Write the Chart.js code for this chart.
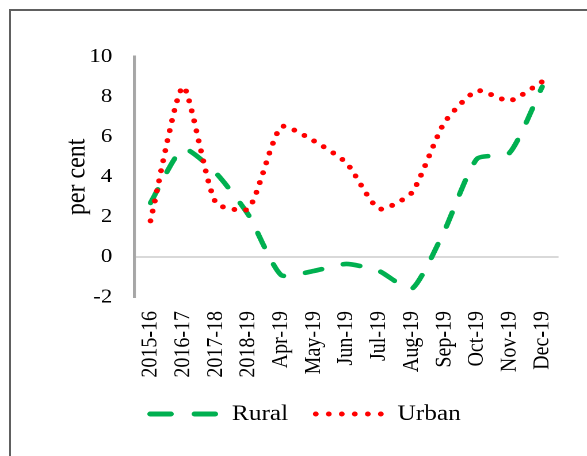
<!DOCTYPE html>
<html>
<head>
<meta charset="utf-8">
<script src="https://cdn.jsdelivr.net/npm/chart.js@4.4.0/dist/chart.umd.min.js"></script>
<style>
html, body { margin:0; padding:0; background:#fff; overflow:hidden; width:587px; height:456px; }
#frame { position:absolute; left:9px; top:9px; width:640px; height:520px; border-left:2px solid #606060; border-top:2px solid #606060; }
/* the reference is a little wider than tall, so the chart is drawn narrow and stretched */
#box { position:absolute; left:12px; top:12px; width:508.7px; height:444px; transform:scaleX(1.15); transform-origin:0 0; }
</style>
</head>
<body>
<div id="frame"></div>
<div id="box"><canvas id="chart"></canvas></div>
<script>
var periods = ["2015-16", "2016-17", "2017-18", "2018-19", "Apr-19", "May-19", "Jun-19",
               "Jul-19", "Aug-19", "Sep-19", "Oct-19", "Nov-19", "Dec-19"]
var rural = [2.7, 5.4, 4.2, 2.1, -0.9, -0.7, -0.35, -0.7, -1.6, 1.3, 4.9, 5.2, 8.5]
var urban = [1.8, 8.5, 2.7, 2.4, 6.5, 5.8, 4.7, 2.4, 3.2, 6.7, 8.3, 7.8, 8.75]
var seriesNames = ["Rural", "Urban"]
var yMin = -2, yMax = 10, yStep = 2

Chart.defaults.font.family = "'Liberation Serif', 'Times New Roman', serif"
Chart.defaults.color = "#000"

function legendLabels(chart){
    var items = Chart.defaults.plugins.legend.labels.generateLabels(chart)
    items.forEach(function(it){
        it.pointStyle = "line"
        it.lineCap = "round"
        it.lineWidth = 5
        it.lineDash = it.datasetIndex == 0 ? [18, 20.5] : [0, 11.3]
    })
    return items
}

new Chart(document.getElementById("chart"), {
    type: "line",
    data: {
        labels: periods,
        datasets: [{
            label: seriesNames[0],
            data: rural,
            borderColor: "#00B050",
            borderWidth: 4.6,
            borderDash: [15, 19],
            borderCapStyle: "round",
            pointRadius: 0,
            tension: 0.2,
            fill: false,
            order: 1
        }, {
            label: seriesNames[1],
            data: urban,
            borderColor: "#FF0000",
            borderWidth: 5,
            borderDash: [0, 10.2],
            borderCapStyle: "round",
            pointRadius: 0,
            tension: 0.2,
            fill: false,
            order: 0
        }]
    },
    options: {
        responsive: true,
        maintainAspectRatio: false,
        animation: false,
        devicePixelRatio: 2,
        layout: {padding: {top: 44.7, left: 35.1, right: 33.9, bottom: 21}},
        scales: {
            x: {
                offset: true,
                grid: {display: false, drawTicks: false},
                border: {display: false},
                ticks: {autoSkip: false, minRotation: 90, maxRotation: 90, padding: 14, font: {size: 20}, color: "#000"},
                afterFit: function(scale){ scale.height = 82 }
            },
            y: {
                min: yMin, max: yMax,
                ticks: {stepSize: yStep, padding: 19, font: {size: 20}, color: "#000"},
                grid: {drawTicks: false, lineWidth: 2, color: function(c){ return c.tick && c.tick.value === 0 ? "#D9D9D9" : "rgba(0,0,0,0)" }},
                border: {color: "#A6A6A6", width: 2.6},
                title: {display: true, text: "per cent", font: {size: 24}, color: "#000", padding: {top: 7, bottom: 0}},
                afterFit: function(scale){ scale.width = 71 }
            }
        },
        plugins: {
            tooltip: {enabled: false},
            legend: {
                position: "bottom",
                labels: {
                    usePointStyle: true,
                    pointStyleWidth: 60,
                    padding: 24,
                    font: {size: 22},
                    color: "#000",
                    generateLabels: legendLabels,
                    sort: function(a, b){ return a.datasetIndex - b.datasetIndex }
                }
            }
        }
    }
})
</script>
</body>
</html>
